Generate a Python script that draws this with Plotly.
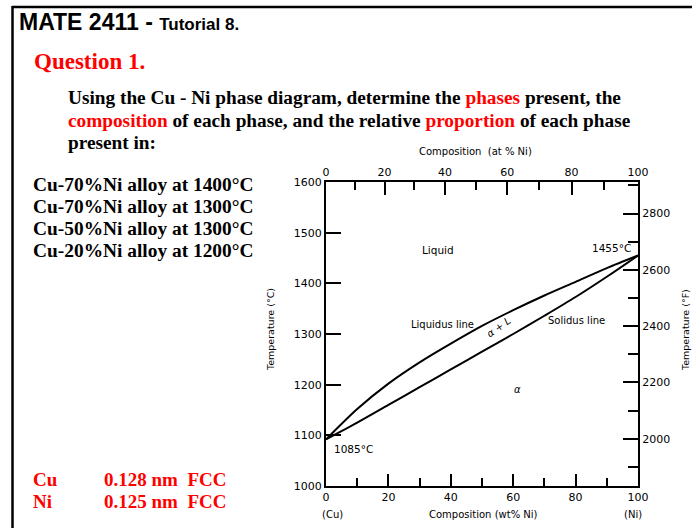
import plotly.graph_objects as go

# ---------------- data ----------------
wt_ni = [0, 10, 20, 30, 40, 50, 60, 70, 80, 90, 100]
liquidus_c = [1092, 1152, 1202, 1244, 1281, 1316, 1347, 1376, 1403, 1430, 1455]
solidus_c = [1092, 1125, 1160, 1195, 1230, 1265, 1300, 1336, 1373, 1413, 1455]

wt_ticks = [0, 20, 40, 60, 80, 100]
wt_minor = [10, 30, 50, 70, 90]
at_ticks = [0, 20, 40, 60, 80, 100]
at_minor = [10, 30, 50, 70, 90]
c_ticks = [1000, 1100, 1200, 1300, 1400, 1500, 1600]
f_ticks = [2000, 2200, 2400, 2600, 2800]
M_NI, M_CU = 58.69, 63.55

alloys = ["Cu-70%Ni alloy at 1400°C", "Cu-70%Ni alloy at 1300°C",
          "Cu-50%Ni alloy at 1300°C", "Cu-20%Ni alloy at 1200°C"]
radii = [("Cu", "0.128 nm  FCC"), ("Ni", "0.125 nm  FCC")]


def at_to_wt(a):
    return 100.0 * a * M_NI / (a * M_NI + (100 - a) * M_CU)


def c_to_f(c):
    return c * 9 / 5 + 32


# ---------------- layout geometry (pixels) ----------------
W, H = 692, 528
L, R, T, B = 326, 638, 182, 486


def fx(px):
    return (px - L) / (R - L)


def fy(py):
    return (B - py) / (B - T)


RED = "#ff0000"
SERIF = "Liberation Serif"
SANS = "Liberation Sans"
CH = "DejaVu Sans"

fig = go.Figure()
fig.add_trace(go.Scatter(x=wt_ni, y=liquidus_c, mode="lines",
                         line=dict(color="black", width=2, shape="spline", smoothing=0.8),
                         showlegend=False, hoverinfo="skip"))
fig.add_trace(go.Scatter(x=wt_ni, y=solidus_c, mode="lines",
                         line=dict(color="black", width=2, shape="spline", smoothing=0.8),
                         showlegend=False, hoverinfo="skip"))
# helper traces to activate secondary axes
fig.add_trace(go.Scatter(x=[0, 100], y=[c_ticks[0], c_ticks[-1]], xaxis="x2", yaxis="y", mode="markers",
                         marker=dict(opacity=0), showlegend=False, hoverinfo="skip"))
fig.add_trace(go.Scatter(x=[0, 100], y=[c_to_f(c_ticks[0]), c_to_f(c_ticks[-1])], xaxis="x", yaxis="y2",
                         mode="markers", marker=dict(opacity=0), showlegend=False, hoverinfo="skip"))

tickfont = dict(family=CH, size=11, color="black")
fig.update_layout(
    width=W, height=H,
    margin=dict(l=L, r=W - R, t=T, b=H - B),
    paper_bgcolor="white", plot_bgcolor="white",
    xaxis=dict(range=[0, 100], tickvals=wt_ticks, ticks="inside", ticklen=12, tickwidth=1.5, tickcolor="black",
               showline=True, linecolor="black", linewidth=2, showgrid=False, zeroline=False, tickfont=tickfont,
               minor=dict(tickvals=wt_minor, ticks="inside", ticklen=8, tickwidth=1.5, tickcolor="black")),
    xaxis2=dict(range=[0, 100], overlaying="x", side="top", tickvals=[at_to_wt(a) for a in at_ticks],
                ticktext=[str(a) for a in at_ticks], ticks="inside", ticklen=13, tickwidth=1.5, tickcolor="black",
                showline=True, linecolor="black", linewidth=2, showgrid=False, zeroline=False, tickfont=tickfont,
                minor=dict(tickvals=[at_to_wt(a) for a in at_minor], ticks="inside", ticklen=8, tickwidth=1.5,
                           tickcolor="black")),
    yaxis=dict(range=[c_ticks[0], c_ticks[-1]], tickvals=c_ticks, ticks="inside", ticklen=15, tickwidth=1.5,
               tickcolor="black", showline=True, linecolor="black", linewidth=2, showgrid=False, zeroline=False,
               tickfont=tickfont),
    yaxis2=dict(range=[c_to_f(c_ticks[0]), c_to_f(c_ticks[-1])], overlaying="y", side="right", tickvals=f_ticks,
                ticks="inside", ticklen=15, tickwidth=1.5, tickcolor="black", showline=True, linecolor="black",
                linewidth=2, showgrid=False, zeroline=False, tickfont=tickfont,
                minor=dict(dtick=100, tick0=0, ticks="inside", ticklen=10, tickwidth=1.5, tickcolor="black")),
)

# slide frame
fig.add_shape(type="line", xref="paper", yref="paper", x0=fx(12), x1=fx(700), y0=fy(7), y1=fy(7),
              line=dict(color="black", width=2.5))
fig.add_shape(type="line", xref="paper", yref="paper", x0=fx(12.5), x1=fx(12.5), y0=fy(6), y1=fy(540),
              line=dict(color="black", width=2.5))

ann = []


def text(s, px, py, size, family, color="black", xanchor="left", angle=0):
    ann.append(dict(text=s, x=fx(px), y=fy(py), xref="paper", yref="paper", xanchor=xanchor, yanchor="middle",
                    showarrow=False, textangle=angle, font=dict(family=family, size=size, color=color)))


text("<b>MATE 2411 - <span style='font-size:17px'>Tutorial 8.</span></b>", 17, 22, 23, SANS)
text("<b>Question 1.</b>", 32, 61, 23, SERIF, RED)
text("<b>Using the Cu - Ni phase diagram, determine the <span style='color:%s'>phases</span> present, the</b>" % RED,
     66, 97, 19.3, SERIF)
text("<b><span style='color:%s'>composition</span> of each phase, and the relative "
     "<span style='color:%s'>proportion</span> of each phase</b>" % (RED, RED), 66, 120, 19.3, SERIF)
text("<b>present in:</b>", 66, 143, 19.3, SERIF)
for i, s in enumerate(alloys):
    text("<b>%s</b>" % s, 31, 185 + i * 21.8, 19.4, SERIF)
for i, (el, val) in enumerate(radii):
    text("<b>%s</b>" % el, 31, 479 + i * 22, 19, SERIF, RED)
    text("<b>%s</b>" % val, 102, 479 + i * 22, 19, SERIF, RED)

# chart labels
text("Composition  (at % Ni)", 475, 151, 10, CH, xanchor="center")
text("(Cu)", 332, 514, 10, CH, xanchor="center")
text("Composition (wt% Ni)", 483, 514, 10, CH, xanchor="center")
text("(Ni)", 633, 514, 10, CH, xanchor="center")
text("Temperature (°C)", 270, 330, 9.5, CH, xanchor="center", angle=-90)
text("Temperature (°F)", 685, 330, 9.5, CH, xanchor="center", angle=-90)
text("Liquid", 438, 250, 10.5, CH, xanchor="center")
text("1455°C", 633, 248, 10.5, CH, xanchor="right")
text("1085°C", 332, 449, 10.5, CH)
text("Liquidus line", 442, 324, 10, CH, xanchor="center")
text("Solidus line", 576, 320, 10, CH, xanchor="center")
text("<i>α + L</i>", 498, 327, 10, CH, xanchor="center", angle=-35)
text("<i>α</i>", 517, 389, 10, CH, xanchor="center")

fig.update_layout(annotations=ann)
fig.write_html("out.html")
